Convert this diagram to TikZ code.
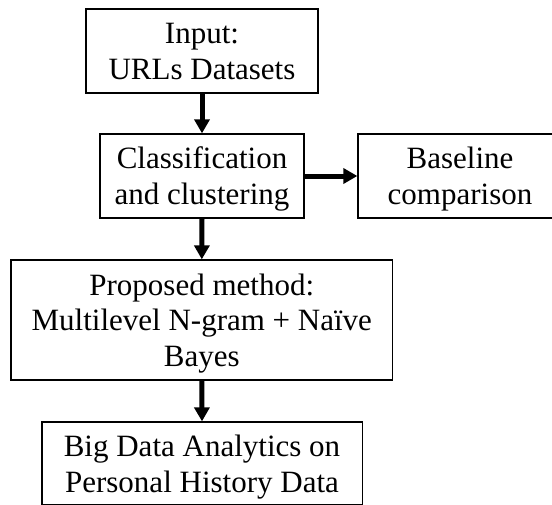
\documentclass[tikz,border=0pt]{standalone}
\usepackage{fontspec}
\setmainfont{Liberation Serif}
\usetikzlibrary{arrows.meta}
\newcommand\mytop{\rule{0pt}{28.5pt}}
\newcommand\mybot{\rule[-7pt]{0pt}{7pt}}
\begin{document}
\begin{tikzpicture}[x=1pt,y=-1pt,
  box/.style={draw=black, line width=1.3pt, rectangle, inner sep=0pt, align=center,
    font=\fontsize{31}{35.7}\selectfont},
  flow/.style={line width=5pt, -{Triangle[length=14pt,width=15pt]}}]
\useasboundingbox (0,0) rectangle (552,504);
\node[box, minimum width=232pt, minimum height=84pt] (b1) at (202,51) {\mytop Input:\\URLs Datasets\mybot};
\node[box, minimum width=204pt, minimum height=84pt] (b2) at (202,176) {\mytop Classification\\and clustering\mybot};
\node[box, minimum width=204pt, minimum height=84pt] (b3) at (460,176) {\mytop Baseline\\comparison\mybot};
\node[box, minimum width=381.7pt, minimum height=120pt] (b4) at (201.8,320) {\mytop Proposed method:\\Multilevel N-gram + Naïve\\Bayes\mybot};
\node[box, minimum width=320.3pt, minimum height=83pt] (b5) at (202,463.5) {\mytop Big Data Analytics on\\Personal History Data\mybot};
\draw[flow] (b1.south) -- (b2.north);
\draw[flow] (b2.east) -- (b3.west);
\draw[flow] (b2.south) -- (b4.north);
\draw[flow] (b4.south) -- (b5.north);
\end{tikzpicture}
\end{document}
